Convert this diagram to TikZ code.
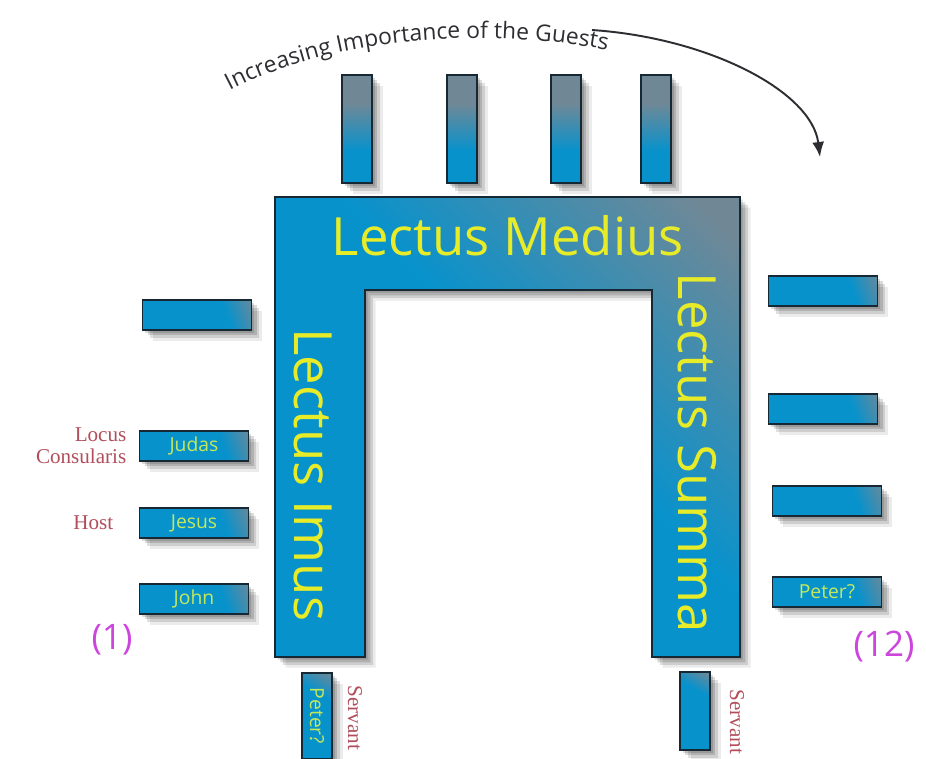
\documentclass[tikz,border=0pt]{standalone}
\usepackage{fontspec}
\usepackage{graphicx}
\setmainfont{Liberation Serif}
\setsansfont{Open Sans}
\usetikzlibrary{arrows.meta,positioning,shadows,decorations.text}
\definecolor{couchblue}{RGB}{8,146,204}
\definecolor{couchgray}{RGB}{112,136,150}
\definecolor{rim}{RGB}{22,40,52}
\definecolor{lemon}{RGB}{232,236,40}
\definecolor{lime}{RGB}{196,232,92}
\definecolor{wine}{RGB}{178,78,92}
\definecolor{orchid}{RGB}{204,70,222}
\definecolor{ink}{RGB}{45,45,50}
\pgfdeclarehorizontalshading{seatflat}{100bp}{color(0bp)=(couchblue); color(66bp)=(couchblue); color(84bp)=(couchgray); color(100bp)=(couchgray)}
\pgfdeclareverticalshading{seatup}{100bp}{color(0bp)=(couchblue); color(40bp)=(couchblue); color(62bp)=(couchgray); color(100bp)=(couchgray)}
\pgfdeclarehorizontalshading{couchshade}{100bp}{color(0bp)=(couchblue); color(55bp)=(couchblue); color(82bp)=(couchgray); color(100bp)=(couchgray)}
\tikzset{
  >={Latex[length=3mm,width=2.4mm]},
  cast/.style={
    general shadow={fill=black,opacity=0.14,shadow xshift=1.5pt,shadow yshift=-1.5pt},
    general shadow={fill=black,opacity=0.14,shadow xshift=3pt,shadow yshift=-3pt},
    general shadow={fill=black,opacity=0.12,shadow xshift=4.5pt,shadow yshift=-4.5pt},
    general shadow={fill=black,opacity=0.08,shadow xshift=6pt,shadow yshift=-6pt}},
  seat/.style={draw=rim,line width=1pt,shade,shading=seatflat,shading angle=20,
    minimum width=2.18cm,minimum height=0.6cm,inner sep=0pt,
    font=\sffamily\fontsize{11}{12}\selectfont,text=lime,cast},
  vseat/.style={seat,shading=seatup,shading angle=0,minimum width=0.6cm,minimum height=2.16cm},
  bigtag/.style={font=\sffamily\fontsize{30}{32}\selectfont,text=lemon,inner sep=0pt},
  note/.style={font=\fontsize{12}{12.5}\selectfont,text=wine,inner sep=0pt},
  num/.style={font=\sffamily\fontsize{20}{22}\selectfont,text=orchid,inner sep=0pt},
}
\begin{document}
\begin{tikzpicture}[x=0.02cm,y=-0.02cm]
  \path[use as bounding box,fill=white] (0,0) rectangle (926,758);
  % the three couches
  \shadedraw[draw=rim,line width=1pt,shading=couchshade,shading angle=45,cast]
    (275,197) -- (740,197) -- (740,657) -- (652,657) -- (652,290)
    -- (365,290) -- (365,657) -- (275,657) -- cycle;
  \node[bigtag] (medius) at (508,236) {Lectus Medius};
  \node[bigtag,rotate=-90] (imus) at (313,475) {Lectus Imus};
  \node[bigtag,rotate=-90] (summa) at (697,453) {Lectus Summa};
  % guests
  \foreach \x [count=\i] in {357,462,566,656} \node[vseat] (top\i) at (\x,129) {};
  \node[seat] (left0) at (197,315) {};
  \node[seat] (judas) at (194,446) {Judas};
  \node[seat] (jesus) at (194,523) {Jesus};
  \node[seat] (john) at (194,599) {John};
  \foreach \x/\y [count=\i] in {823/291,823/409,827/501} \node[seat] (right\i) at (\x,\y) {};
  \node[seat] (peterr) at (827,592) {Peter?};
  \node[vseat,minimum height=1.72cm,shading=seatflat,shading angle=60] (peterb) at (317,716) {\rotatebox{-90}{Peter?}};
  \node[vseat,minimum height=1.56cm,shading=seatflat,shading angle=60] (servb) at (695,711) {};
  % roles
  \node[note,align=right,left=0.24cm of judas] (locus) {Locus\\Consularis};
  \node[note,left=0.5cm of jesus] (host) {Host};
  \node[note,rotate=-90] (servl) at (355,718) {Servant};
  \node[note,rotate=-90] (servr) at (737,722) {Servant};
  \node[num] (first) at (112,640) {(1)};
  \node[num] (last) at (884,647) {(12)};
  % order of importance
  \path[decorate,decoration={text along path,text align=center,text color=ink,
    text={|\sffamily\fontsize{13}{13}\selectfont|Increasing Importance of the Guests}}]
    (220,96) .. controls (316,42) and (470,22) .. (618,52);
  \coordinate (arcfrom) at (592,30);
  \coordinate (arcto) at (820,157);
  \draw[->,ink,line width=1.1pt] (arcfrom) .. controls (710,38) and (812,92) .. (arcto);
\end{tikzpicture}
\end{document}
